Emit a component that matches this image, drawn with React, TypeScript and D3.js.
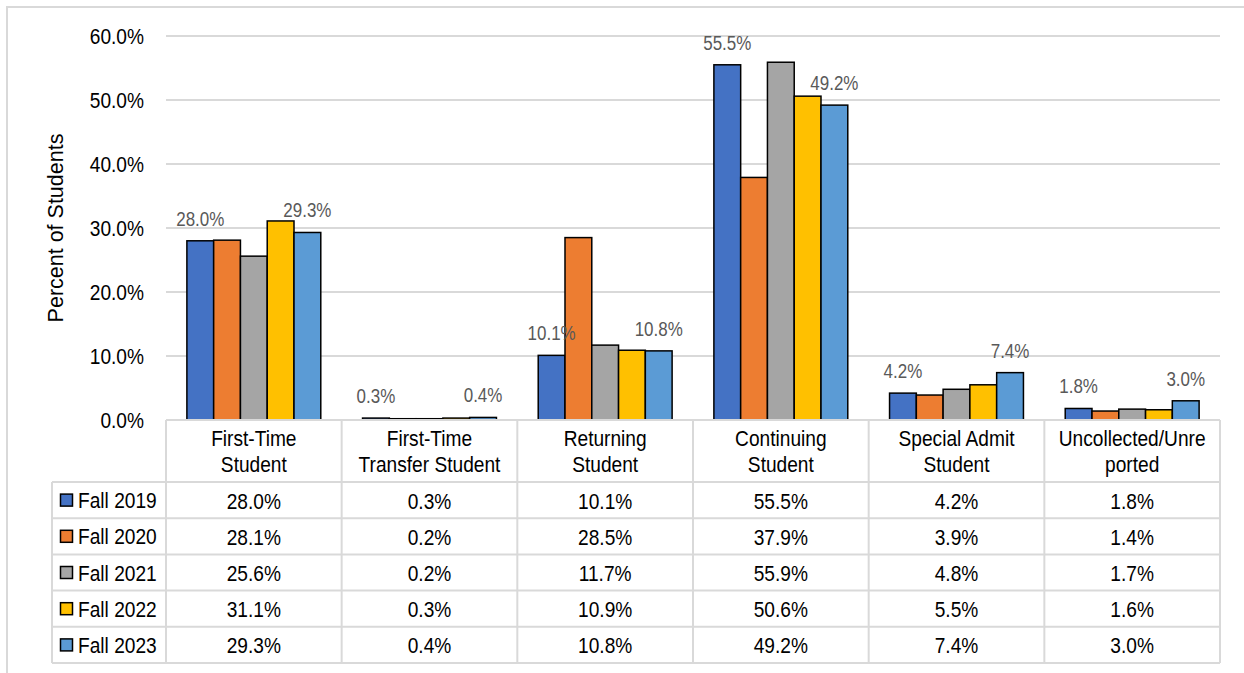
import React from "react";
import * as d3 from "d3";

const categories = [
  ["First-Time", "Student"],
  ["First-Time", "Transfer Student"],
  ["Returning", "Student"],
  ["Continuing", "Student"],
  ["Special Admit", "Student"],
  ["Uncollected/Unre", "ported"],
];
const series = ["Fall 2019", "Fall 2020", "Fall 2021", "Fall 2022", "Fall 2023"];
const colors = ["#4472C4", "#ED7D31", "#A5A5A5", "#FFC000", "#5B9BD5"];
// one row per series, one value per category (percent)
const values = [
  [28.0, 0.3, 10.1, 55.5, 4.2, 1.8],
  [28.1, 0.2, 28.5, 37.9, 3.9, 1.4],
  [25.6, 0.2, 11.7, 55.9, 4.8, 1.7],
  [31.1, 0.3, 10.9, 50.6, 5.5, 1.6],
  [29.3, 0.4, 10.8, 49.2, 7.4, 3.0],
];
const yTicks = [0, 10, 20, 30, 40, 50, 60];
const labelledSeries = ["Fall 2019", "Fall 2023"];

const W = 1244;
const H = 673;
const FONT = "'Liberation Sans', Arial, sans-serif";
const GRID = "#d9d9d9";
const SQUEEZE = 0.87; // the source font is a bit narrower than Arial

// squeezed text, like the narrow font of the original
const T = ({ x, y, anchor = "start", size = 22, fill = "#000", children }: any) => (
  <text transform={`translate(${x},${y}) scale(${SQUEEZE},1)`} textAnchor={anchor} fontSize={size} fill={fill}>
    {children}
  </text>
);

export default function App() {
  const left = 166;
  const right = 1220;
  const y = d3.scaleLinear().domain([0, 60]).range([420, 36]);
  const x = d3.scaleBand<number>().domain(d3.range(categories.length)).range([left, right]);
  const xi = d3.scaleBand<string>().domain(series).range([0, x.bandwidth()]).paddingOuter(0.78);

  const headTop = y(0);
  const headBottom = 482;
  const rowH = 36.2;
  const legendLeft = 52;
  const tableBottom = headBottom + rowH * series.length;

  return (
    <svg width={W} height={H} style={{ position: "absolute", left: 0, top: 0, display: "block" }} fontFamily={FONT}>
      <rect x={0} y={0} width={W} height={H} fill="#fff" />
      <rect x={7} y={7} width={W + 20} height={H + 20} fill="none" stroke={GRID} strokeWidth={2} />

      {/* gridlines and y labels */}
      {yTicks.map((t) => (
        <g key={t}>
          {t > 0 && <line x1={left} x2={right} y1={y(t)} y2={y(t)} stroke={GRID} strokeWidth={2} />}
          <T x={144} y={y(t) + 7.5} anchor="end">{t.toFixed(1)}%</T>
        </g>
      ))}
      <text transform={`translate(63,${228}) rotate(-90)`} textAnchor="middle" fontSize={21.5} fill="#000">
        Percent of Students
      </text>

      {/* bars */}
      {series.map((s, si) =>
        categories.map((_, ci) => {
          const v = values[si][ci];
          const bx = (x(ci) as number) + (xi(s) as number);
          return (
            <rect key={s + ci} x={bx} y={y(v)} width={xi.bandwidth()} height={y(0) - y(v)}
              fill={colors[si]} stroke="#000" strokeWidth={1.5} />
          );
        })
      )}
      {/* data labels */}
      {series.map((s, si) =>
        labelledSeries.includes(s)
          ? categories.map((_, ci) => {
              const v = values[si][ci];
              const cx = (x(ci) as number) + (xi(s) as number) + xi.bandwidth() / 2;
              return (
                <T key={"l" + s + ci} x={cx} y={y(v) - 15} anchor="middle" size={19.5} fill="#595959">
                  {v.toFixed(1)}%
                </T>
              );
            })
          : null
      )}

      {/* data table */}
      <g stroke={GRID} strokeWidth={2} fill="none">
        <line x1={left} x2={right} y1={headTop} y2={headTop} />
        {d3.range(series.length + 1).map((r) => (
          <line key={"h" + r} x1={legendLeft} x2={right} y1={headBottom + r * rowH} y2={headBottom + r * rowH} />
        ))}
        <line x1={legendLeft} x2={legendLeft} y1={headBottom} y2={tableBottom} />
        {d3.range(categories.length + 1).map((c) => {
          const cx = c < categories.length ? (x(c) as number) : right;
          return <line key={"v" + c} x1={cx} x2={cx} y1={headTop} y2={tableBottom} />;
        })}
      </g>
      {categories.map((lines, ci) => {
        const cx = (x(ci) as number) + x.bandwidth() / 2;
        return (
          <g key={"c" + ci}>
            <T x={cx} y={445.5} anchor="middle">{lines[0]}</T>
            <T x={cx} y={471.5} anchor="middle">{lines[1]}</T>
          </g>
        );
      })}
      {series.map((s, si) => {
        const cy = headBottom + rowH * si + rowH / 2;
        return (
          <g key={"r" + s}>
            <rect x={60.5} y={cy - 6} width={12} height={12} fill={colors[si]} stroke="#000" strokeWidth={1.5} />
            <T x={78} y={cy + 8}>{s}</T>
            {categories.map((_, ci) => (
              <T key={ci} x={(x(ci) as number) + x.bandwidth() / 2} y={cy + 8.5} anchor="middle">
                {values[si][ci].toFixed(1)}%
              </T>
            ))}
          </g>
        );
      })}
    </svg>
  );
}
